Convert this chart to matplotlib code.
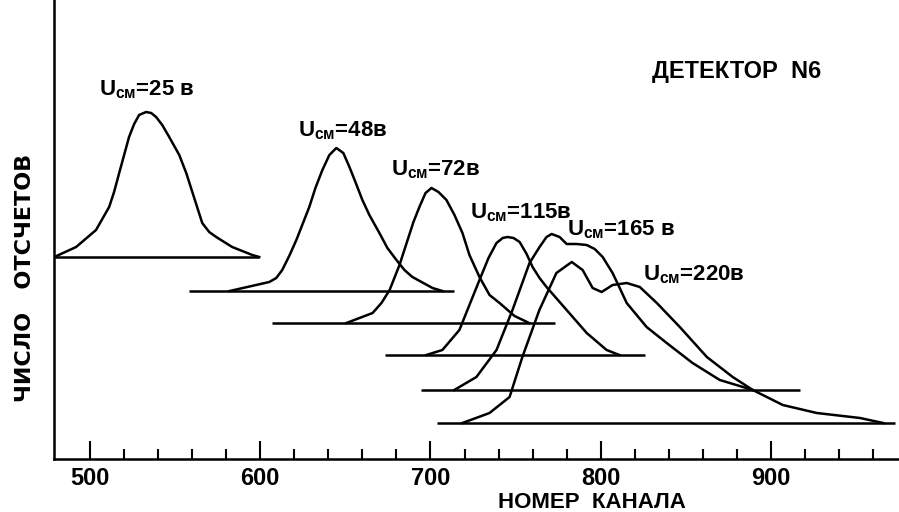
import numpy as np
import matplotlib
matplotlib.use('Agg')
import matplotlib.pyplot as plt

# Спектры детектора N6 при разных напряжениях смещения
# канал (ось x) и число отсчетов над своей базовой линией
voltages = ['25 в', '48в', '72в', '115в', '165 в', '220в']

ch_25 = [479, 491.8, 503.5, 511.2, 514.1, 517.1, 522.9, 525.9, 528.8, 532.9, 535.9, 538.8,
         542.4, 546.5, 552.4, 556.5, 561.2, 565.9, 570, 574.1, 583.5, 595.3, 599.4]
n_25 = [0, 10, 27, 50, 65, 84, 120, 133, 142, 145, 144, 140,
        132, 120, 102, 84, 59, 34, 25, 20, 10, 2, 0]

ch_48 = [582, 605.3, 609.4, 612.9, 617, 621.2, 628.8, 632.4, 636.5, 640.6, 644.7, 648.8,
         652.4, 655.9, 660, 664.1, 670, 674.7, 680, 684.7, 689.4, 701.2, 707]
n_48 = [0, 9, 13, 21, 35, 51, 84, 103, 121, 136, 143, 138,
        124, 109, 91, 76, 58, 43, 31, 21, 14, 3, 0]

ch_72 = [650.6, 666, 671.2, 676, 681.8, 686, 690, 693.5, 697.1, 700.6, 704.7, 709.4,
         714.1, 718.8, 722.9, 728.8, 734.7, 740.6, 749.4, 758]
n_72 = [0, 10, 20, 33, 58, 80, 101, 116, 130, 135, 131, 123,
        108, 90, 68, 46, 28, 20, 7, 0]

ch_115 = [697.6, 707, 717, 722.9, 728.8, 734.1, 738.8, 742.4, 745.3, 748.8, 752.4, 756.5,
          760, 764.1, 768.2, 780, 791.8, 803.5, 811]
n_115 = [0, 5, 25, 50, 75, 97, 112, 117, 118, 117, 113, 101,
         88, 77, 68, 45, 22, 5, 0]

ch_165 = [714, 727, 738.8, 748.2, 758.2, 764.1, 768.2, 771.2, 775.9, 780, 785.9, 791.8,
          796.5, 801.2, 807, 811.2, 815.3, 827, 838.8, 854, 870, 889.4]
n_165 = [0, 13, 40, 80, 127, 143, 153, 156, 153, 146, 146, 145,
         141, 133, 117, 102, 87, 63, 47, 27, 10, 0]

ch_220 = [718.8, 734.7, 746.5, 754, 764, 774, 783, 789.4, 795.3, 800.6, 807, 815.3, 823,
          833, 846.5, 862.4, 877.6, 889.4, 907, 927, 952.4, 966]
n_220 = [0, 10, 26, 66, 113, 150, 161, 153, 135, 131, 138, 140, 136, 120, 96, 66, 46,
         33, 18, 10, 5, 0]

# уровни базовых линий и их протяженность по каналам
base_levels = [202, 168, 136, 104, 69, 36]
base_from = [478.8, 558, 607, 673, 694.7, 704]
base_to = [599.4, 714, 773, 826, 917, 973]

# положение подписей (канал, уровень)
label_ch = [505.3, 622.4, 677, 723, 780, 824.7]
label_y = [364, 323, 284, 241, 224, 179]

channels = [ch_25, ch_48, ch_72, ch_115, ch_165, ch_220]
counts = [n_25, n_48, n_72, n_115, n_165, n_220]

plt.rcParams['mathtext.fontset'] = 'custom'
plt.rcParams['mathtext.rm'] = 'Liberation Sans:bold'
plt.rcParams['mathtext.it'] = 'Liberation Sans:bold'
plt.rcParams['mathtext.bf'] = 'Liberation Sans:bold'

fig = plt.figure(figsize=(8.99, 5.12), dpi=100)
ax = fig.add_axes([54 / 899, 53 / 512, 845 / 899, 459 / 512])

lw = 1.8
for ch, n, lev, x0, x1 in zip(channels, counts, base_levels, base_from, base_to):
    ax.plot(ch, np.array(n) + lev, color='black', lw=lw, solid_joinstyle='round')
    ax.plot([x0, x1], [lev, lev], color='black', lw=lw, solid_capstyle='butt')

for v, x, y in zip(voltages, label_ch, label_y):
    ax.text(x, y, r'$U_{\mathrm{см}}$=' + v, fontsize=16, ha='left', va='baseline',
            family='Liberation Sans', fontweight='bold')

ax.text(830, 381, 'ДЕТЕКТОР  N6', fontsize=17, ha='left', va='baseline',
        family='Liberation Sans', fontweight='bold')

ax.set_xlim(478.8, 975.3)
ax.set_ylim(0, 459)

ax.set_xticks([500, 600, 700, 800, 900])
ax.set_xticks(np.arange(500, 961, 20), minor=True)
ax.set_yticks([])
ax.tick_params(axis='x', which='major', direction='in', length=13, width=1.5, pad=6)
ax.tick_params(axis='x', which='minor', direction='in', length=7, width=1.5)
for lab in ax.get_xticklabels():
    lab.set_family('Liberation Sans')
    lab.set_fontweight('bold')
    lab.set_fontsize(17)

for s in ['top', 'right']:
    ax.spines[s].set_visible(False)
for s in ['left', 'bottom']:
    ax.spines[s].set_linewidth(1.8)

fig.text(592 / 899, 4 / 512, 'НОМЕР  КАНАЛА', fontsize=16, ha='center', va='baseline',
         family='Liberation Sans', fontweight='bold')
fig.text(25 / 899, 234 / 512, 'ЧИСЛО   ОТСЧЕТОВ', fontsize=16, rotation=90,
         ha='center', va='center', family='DejaVu Sans', fontweight='bold')

fig.savefig('out.png', dpi=100)
